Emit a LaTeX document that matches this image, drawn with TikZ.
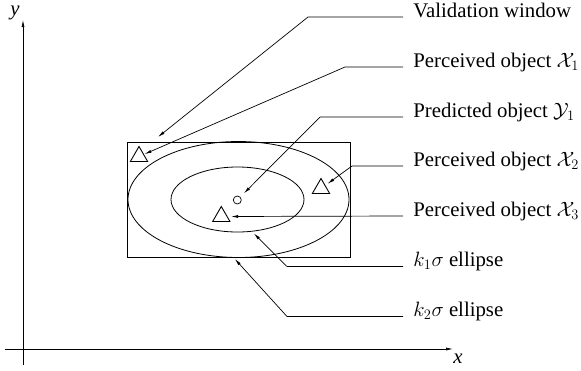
\documentclass[tikz,border=0pt]{standalone}
\usepackage{fontspec}
\setmainfont{Liberation Serif}
\usetikzlibrary{arrows.meta,shapes.geometric}
\tikzset{
  lbl/.style={anchor=base west, inner sep=0pt, font=\fontsize{20.8}{24}\selectfont},
  obj/.style={draw, regular polygon, regular polygon sides=3, minimum size=20pt, inner sep=0pt, outer sep=0pt, line width=0.9pt},
  ptr/.style={-{Latex[length=7pt,width=3pt]}, line width=0.7pt}
}
\begin{document}
\begin{tikzpicture}[x=1pt, y=-1pt, line width=0.8pt]
  \useasboundingbox (0,0) rectangle (581,370);
  \def\cx{238.5}\def\cy{199.5}\def\lx{413}
  % axes
  \coordinate (ybot) at (23,365);
  \coordinate (ytop) at (23,20);
  \coordinate (xlft) at (5,349);
  \coordinate (xrgt) at (453,349);
  \draw[ptr] (ybot) -- (ytop);
  \draw[ptr] (xlft) -- (xrgt);
  \node[font=\fontsize{20.8}{24}\selectfont\itshape, inner sep=0pt] (ylab) at (15,13) {y};
  \node[font=\fontsize{20.8}{24}\selectfont\itshape, inner sep=0pt] (xlab) at (458,359) {x};
  % window and ellipses
  \node[draw, minimum width=223pt, minimum height=115pt, inner sep=0pt, outer sep=0pt] (win) at (\cx,\cy) {};
  \node[draw, ellipse, minimum width=221pt, minimum height=116pt, inner sep=0pt, outer sep=0pt] (outer) at (\cx,\cy) {};
  \node[draw, ellipse, minimum width=133pt, minimum height=65pt, inner sep=0pt, outer sep=0pt] (inner) at (237.5,\cy) {};
  \node[draw, circle, minimum size=8pt, inner sep=0pt, line width=0.7pt] (pred) at (237.3,200) {};
  \node[obj] (x1) at (139,156.5) {};
  \node[obj] (x2) at (321,188.5) {};
  \node[obj] (x3) at (221.3,216.5) {};
  % labels
  \node[lbl] (lw)  at (\lx,17)  {Validation window};
  \node[lbl] (lx1) at (\lx,67)  {Perceived object $\mathcal{X}_1$};
  \node[lbl] (ly1) at (\lx,117) {Predicted object $\mathcal{Y}_1$};
  \node[lbl] (lx2) at (\lx,166) {Perceived object $\mathcal{X}_2$};
  \node[lbl] (lx3) at (\lx,216) {Perceived object $\mathcal{X}_3$};
  \node[lbl] (lk1) at (\lx,266.5) {$k_1\sigma$ ellipse};
  \node[lbl] (lk2) at (\lx,316.5) {$k_2\sigma$ ellipse};
  % pointers
  \coordinate (vw) at (158,137);
  \draw[ptr] (lw.base west) ++(-10,0) -- ++(-95,0) -- (vw);
  \draw[ptr, shorten >=1pt] (lx1.base west) ++(-10,0) -- ++(-58,0) -- (x1);
  \draw[ptr, shorten >=5pt] (ly1.base west) ++(-10,0) -- ++(-83,0) -- (pred);
  \draw[ptr, shorten >=3pt] (lx2.base west) ++(-10,0) -- ++(-51,0) -- (x2);
  \draw[ptr, shorten >=4pt] (lx3.base west) ++(-10,0) -- (x3.east);
  \draw[ptr, shorten >=3pt] (lk1.base west) ++(-10,0) -- ++(-116,0) -- (inner.-66);
  \draw[ptr, shorten >=2pt] (lk2.base west) ++(-10,0) -- ++(-116,0) -- (outer.-95);
\end{tikzpicture}
\end{document}
